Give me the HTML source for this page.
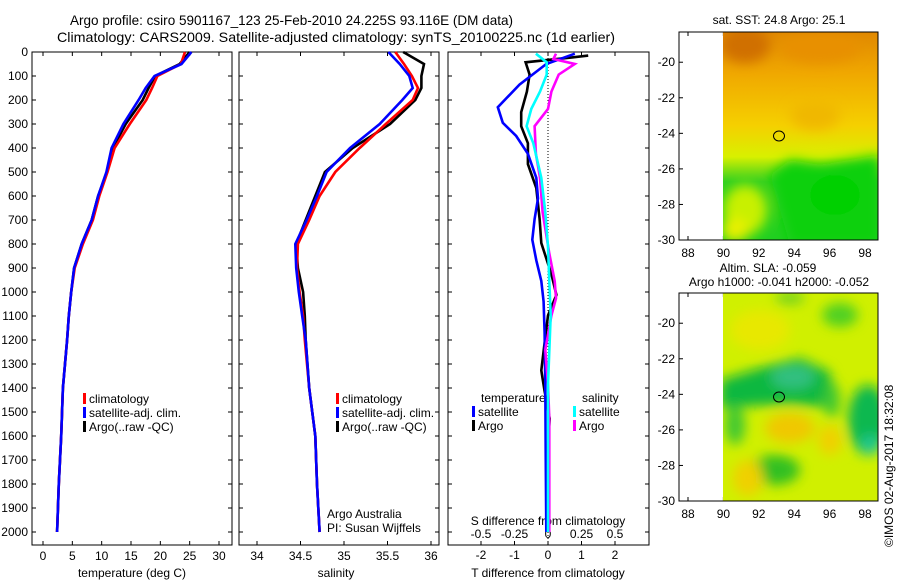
<!DOCTYPE html>
<html><head><meta charset="utf-8"><style>
body{margin:0;background:#fff}
svg{display:block;font-family:"Liberation Sans",sans-serif}
text{fill:#000}
</style></head><body>
<svg id="fig" width="900" height="580" viewBox="0 0 900 580" xmlns="http://www.w3.org/2000/svg">
<defs>
<filter id="bl" x="-50%" y="-50%" width="200%" height="200%"><feGaussianBlur stdDeviation="6"/></filter>
<clipPath id="c1"><rect x="723" y="32" width="155" height="208"/></clipPath>
<clipPath id="c2"><rect x="723" y="293" width="155" height="208"/></clipPath>
<linearGradient id="sstg" x1="0" y1="0" x2="0" y2="1">
<stop offset="0" stop-color="#e08800"/><stop offset="0.2" stop-color="#f0a800"/><stop offset="0.45" stop-color="#f5d000"/><stop offset="0.6" stop-color="#d8f000"/><stop offset="0.72" stop-color="#30d020"/><stop offset="1" stop-color="#20d020"/>
</linearGradient>
</defs>
<text x="70" y="25" font-size="14" textLength="443" lengthAdjust="spacingAndGlyphs">Argo profile: csiro 5901167_123 25-Feb-2010 24.225S 93.116E (DM data)</text>
<text x="57" y="42" font-size="14" textLength="558" lengthAdjust="spacingAndGlyphs">Climatology: CARS2009. Satellite-adjusted climatology: synTS_20100225.nc (1d earlier)</text>
<g id="panels"></g>
<!-- maps -->
<g>
<text x="779" y="24" font-size="12" text-anchor="middle">sat. SST: 24.8 Argo: 25.1</text>
<g clip-path="url(#c1)">
<rect x="723" y="32" width="155" height="208" fill="url(#sstg)"/>
<g filter="url(#bl)">
<ellipse cx="745" cy="45" rx="25" ry="18" fill="#d07000"/>
<ellipse cx="820" cy="48" rx="40" ry="15" fill="#e89000"/>
<ellipse cx="815" cy="115" rx="25" ry="15" fill="#f0b800"/>
<path d="M770 175 L790 160 L820 165 L880 155 L880 245 L790 245 L780 210 Z" fill="#10d010"/>
<ellipse cx="745" cy="210" rx="22" ry="25" fill="#c8f000"/>
<ellipse cx="735" cy="230" rx="14" ry="12" fill="#e8f000"/>
<ellipse cx="835" cy="195" rx="25" ry="20" fill="#00d000"/>
</g></g>
<rect x="679" y="32" width="199" height="208" fill="none" stroke="#000"/>
<ellipse cx="779" cy="136" rx="5.5" ry="5" fill="none" stroke="#000"/>
</g>
<g>
<text x="768" y="272" font-size="12" text-anchor="middle">Altim. SLA: -0.059</text>
<text x="779" y="286" font-size="12" text-anchor="middle">Argo h1000: -0.041 h2000: -0.052</text>
<g clip-path="url(#c2)">
<rect x="723" y="293" width="155" height="208" fill="#d0f000"/>
<g filter="url(#bl)">
<ellipse cx="760" cy="330" rx="30" ry="20" fill="#e8e800"/>
<ellipse cx="840" cy="315" rx="18" ry="12" fill="#50d020"/>
<ellipse cx="790" cy="298" rx="15" ry="6" fill="#70d020"/>
<path d="M720 380 L770 365 L800 358 L830 372 L835 408 L790 404 L720 408 Z" fill="#10b840"/>
<ellipse cx="793" cy="377" rx="22" ry="12" fill="#30c080"/>
<ellipse cx="868" cy="420" rx="20" ry="35" fill="#10b850"/>
<ellipse cx="870" cy="445" rx="10" ry="10" fill="#20c890"/>
<ellipse cx="790" cy="428" rx="25" ry="15" fill="#f0c800"/>
<ellipse cx="830" cy="440" rx="12" ry="15" fill="#f0d000"/>
<ellipse cx="775" cy="470" rx="25" ry="15" fill="#30c020"/>
<ellipse cx="748" cy="478" rx="15" ry="18" fill="#f0d000"/>
<ellipse cx="735" cy="425" rx="10" ry="20" fill="#40c830"/>
<ellipse cx="832" cy="400" rx="8" ry="18" fill="#40c830"/>
</g></g>
<rect x="679" y="293" width="199" height="208" fill="none" stroke="#000"/>
<ellipse cx="779" cy="397" rx="5.5" ry="5" fill="none" stroke="#000"/>
</g>
<text x="893" y="547" font-size="12" transform="rotate(-90 893 547)">©IMOS 02-Aug-2017 18:32:08</text>
</svg>
<script>
// ===== data =====
const depths = [0,50,100,150,200,300,400,500,600,700,800,900,1000,1100,1200,1400,1600,1800,2000];
const tempArgo = [25.0,23.3,19.1,18.0,17.0,14.1,11.9,10.9,9.4,8.3,6.6,5.3,4.8,4.4,4.1,3.4,3.1,2.7,2.4];
const tempClim = [24.2,23.5,19.5,18.6,17.6,14.8,12.2,11.0,9.6,8.5,6.8,5.4,4.8,4.4,4.1,3.4,3.1,2.7,2.4];
const tempSat  = [25.3,23.6,19.0,17.5,16.3,13.7,11.7,10.8,9.4,8.3,6.6,5.3,4.8,4.4,4.1,3.4,3.1,2.7,2.4];
const salArgo = [35.68,35.92,35.89,35.89,35.82,35.53,35.10,34.78,34.67,34.56,34.45,34.47,34.53,34.55,34.56,34.60,34.67,34.69,34.72];
const salClim = [35.59,35.69,35.78,35.85,35.79,35.48,35.18,34.90,34.72,34.60,34.47,34.46,34.49,34.53,34.55,34.60,34.67,34.69,34.72];
const salSat  = [35.51,35.64,35.75,35.79,35.67,35.41,35.07,34.80,34.69,34.57,34.44,34.45,34.48,34.52,34.56,34.60,34.67,34.69,34.72];
const dDepthT = [7,50,136,230,295,350,424,524,610,696,782,868,954,1040,1170,1385,1672,2000];
const dTSat   = [0.8,-0.05,-0.85,-1.5,-1.35,-0.95,-0.6,-0.35,-0.3,-0.4,-0.47,-0.35,-0.2,-0.13,-0.1,-0.08,-0.07,-0.05];
const dDepthA = [15,22,43,94,165,251,309,380,467,567,696,796,926,1012,1098,1212,1327,1413,1528,1743,2000];
const dTArgo  = [1.2,0.75,-0.67,-0.55,-0.63,-0.8,-0.8,-0.6,-0.6,-0.35,-0.25,-0.2,0.1,0.25,0,-0.1,-0.2,-0.1,0.05,-0.05,-0.05];
const dDepthS = [7,43,94,165,237,309,380,524,667,811,954,1098,1385,2000];
const dSSat   = [-0.09,-0.01,-0.01,-0.06,-0.125,-0.16,-0.11,-0.05,-0.02,0.0,0.01,0.02,0.0,0.0];
const dDepthM = [7,29,50,94,165,237,309,424,524,667,839,954,1026,1098,1241,1385,1528,2000];
const dSArgo  = [0.06,0.04,0.2,0.08,0.025,0,-0.1,-0.09,-0.06,-0.04,0.01,0.05,0.06,0.025,-0.02,0,0.01,0.01];
const depthTicks = [0,100,200,300,400,500,600,700,800,900,1000,1100,1200,1300,1400,1500,1600,1700,1800,1900,2000];
const tTicks = [0,5,10,15,20,25,30];
const sTicks = [34,34.5,35,35.5,36];
const dtTicks = [-2,-1,0,1,2];
const dsTicks = [-0.5,-0.25,0,0.25,0.5];
const dsTickLabels = ['-0.5','-0.25','0','0.25','0.5'];
const lonTicks = [88,90,92,94,96,98];
const latTicks = [-20,-22,-24,-26,-28,-30];

// ===== axes =====
const NS='http://www.w3.org/2000/svg';
const TOP=52, BOT=545;
const yD = d => TOP + d*0.24;
const xT = t => 43 + t*5.867;
const xS = s => 257 + (s-34)*87;
const xDT = t => 548 + t*33.5;
const xDS = s => 548 + s*134;
const root=document.getElementById('panels');
function mk(tag, attrs, parent){const e=document.createElementNS(NS,tag);for(const k in attrs)e.setAttribute(k,attrs[k]);(parent||root).appendChild(e);return e;}
function txt(x,y,s,size,anchor,parent){const e=mk('text',{x:x,y:y,'font-size':size||12,'text-anchor':anchor||'middle'},parent);e.textContent=s;return e;}
function line(vals,deps,xf,color,name){
  const p=mk('polyline',{points:vals.map((v,i)=>xf(v).toFixed(1)+','+yD(deps[i]).toFixed(1)).join(' '),fill:'none',stroke:color,'stroke-width':2.6,'stroke-linejoin':'miter'});
  
  
}
function frame(x0,x1,name){
  const g=mk('g',{});
  
  
  mk('rect',{x:x0,y:TOP,width:x1-x0,height:BOT-TOP,fill:'none',stroke:'#000'},g);
  depthTicks.forEach(d=>{mk('line',{x1:x0,x2:x0+4,y1:yD(d),y2:yD(d),stroke:'#000'},g);mk('line',{x1:x1,x2:x1-4,y1:yD(d),y2:yD(d),stroke:'#000'},g);});
  return g;
}
function xticks(g,ticks,xf,labels,ly){
  ticks.forEach((t,i)=>{const x=xf(t);mk('line',{x1:x,x2:x,y1:BOT,y2:BOT-4,stroke:'#000'},g);mk('line',{x1:x,x2:x,y1:TOP,y2:TOP+4,stroke:'#000'},g);
    const e=txt(x,ly,labels?labels[i]:String(t),12,'middle',g);
    
    });
}
function legend(x,y,items,g){
  items.forEach((it,i)=>{mk('rect',{x:x,y:y+i*14-10,width:3,height:11,fill:it[0]},g);txt(x+6,y+i*14,it[1],12,'start',g);});
}
// panel 1
const g1=frame(32,232,'temperature-panel');
depthTicks.forEach(d=>{const e=txt(28,yD(d)+4,String(d),12,'end',g1);
  
  });
xticks(g1,tTicks,xT,null,560);
txt(132,577,'temperature (deg C)',12,'middle',g1);
line(tempArgo,depths,xT,'#000','temp-argo-line');
line(tempClim,depths,xT,'#f00','temp-climatology-line');
line(tempSat,depths,xT,'#00f','temp-satellite-line');
legend(83,403,[['#f00','climatology'],['#00f','satellite-adj. clim.'],['#000','Argo(..raw -QC)']],g1);
// panel 2
const g2=frame(239,439,'salinity-panel');
xticks(g2,sTicks,xS,['34','34.5','35','35.5','36'],560);
txt(336,577,'salinity',12,'middle',g2);
line(salArgo,depths,xS,'#000','sal-argo-line');
line(salClim,depths,xS,'#f00','sal-climatology-line');
line(salSat,depths,xS,'#00f','sal-satellite-line');
legend(336,403,[['#f00','climatology'],['#00f','satellite-adj. clim.'],['#000','Argo(..raw -QC)']],g2);
txt(327,518,'Argo Australia',12,'start',g2);
txt(327,532,'PI: Susan Wijffels',12,'start',g2);
// panel 3
const g3=frame(448,649,'difference-panel');
mk('line',{x1:548,x2:548,y1:TOP,y2:BOT,stroke:'#000','stroke-dasharray':'1,2'},g3);
xticks(g3,dtTicks,xDT,null,559);
dsTicks.forEach((t,i)=>{const e=txt(xDS(t),538,dsTickLabels[i],12,'middle',g3);
  
  });
txt(548,525,'S difference from climatology',12,'middle',g3);
txt(548,577,'T difference from climatology',12,'middle',g3);
line(dTArgo,dDepthA,xDT,'#000','tdiff-argo-line');
line(dTSat,dDepthT,xDT,'#00f','tdiff-satellite-line');
line(dSArgo,dDepthM,xDS,'#f0f','sdiff-argo-line');
line(dSSat,dDepthS,xDS,'#0ff','sdiff-satellite-line');
txt(481,402,'temperature',12,'start',g3);
txt(582,402,'salinity',12,'start',g3);
legend(472,416,[['#00f','satellite'],['#000','Argo']],g3);
legend(573,416,[['#0ff','satellite'],['#f0f','Argo']],g3);
// map axes
[[32,240,'sst'],[293,501,'sla']].forEach(m=>{
  const g=mk('g',{});
  
  
  const top=m[0], bot=m[1];
  const yLat=lat=> top + (-18.3-lat)*(bot-top)/11.7;
  lonTicks.forEach(l=>{const x=688+(l-88)*17.7;mk('line',{x1:x,x2:x,y1:bot,y2:bot-4,stroke:'#000'},g);mk('line',{x1:x,x2:x,y1:top,y2:top+4,stroke:'#000'},g);txt(x,bot+17,String(l),12,'middle',g);});
  latTicks.forEach(l=>{const y=yLat(l);mk('line',{x1:679,x2:683,y1:y,y2:y,stroke:'#000'},g);mk('line',{x1:878,x2:874,y1:y,y2:y,stroke:'#000'},g);txt(675,y+4,String(l),12,'end',g);});
});
</script>
</body></html>
